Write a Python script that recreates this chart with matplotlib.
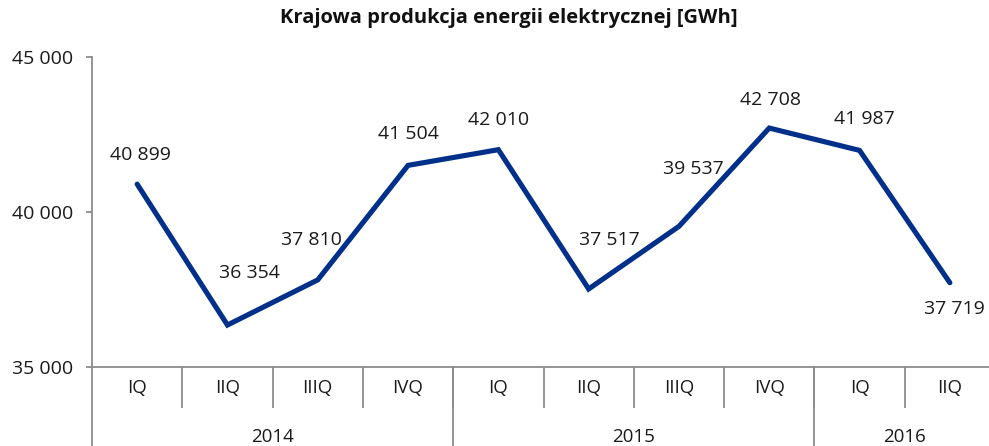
import matplotlib
matplotlib.use("Agg")
import matplotlib.pyplot as plt
import matplotlib.transforms as mtransforms

plt.rcParams['font.family'] = ['Open Sans', 'DejaVu Sans']

title = "Krajowa produkcja energii elektrycznej [GWh]"
quarters = ["IQ", "IIQ", "IIIQ", "IVQ", "IQ", "IIQ", "IIIQ", "IVQ", "IQ", "IIQ"]
years = ["2014", "2015", "2016"]
year_counts = [4, 4, 2]
values = [40899, 36354, 37810, 41504, 42010, 37517, 39537, 42708, 41987, 37719]
yticks = [35000, 40000, 45000]

# label offsets in pixels (style)
offsets = [(3, 29), (22, 52), (-6, 40), (0, 31), (0, 30), (21, 49), (14, 57), (1, 28), (5, 31), (5, -26)]

W, H = 989, 446
fig = plt.figure(figsize=(W / 100, H / 100), dpi=100)
L, R, T, B = 92, 995, 57, 367
ax = fig.add_axes([L / W, (H - B) / H, (R - L) / W, (B - T) / H])

FS = 14
TXT = "#1a1a1a"
n = len(values)
x = list(range(n))
ax.plot(x, values, color="#00308a", lw=3.7, solid_capstyle="round", solid_joinstyle="miter", zorder=3)

def fmt(v):
    return f"{v:,}".replace(",", " ")

for xi, v, (dx, dy) in zip(x, values, offsets):
    ax.annotate(fmt(v), (xi, v), xytext=(dx * 0.72, dy * 0.72), textcoords="offset points",
                ha="center", va="center", fontsize=FS, color=TXT)

ax.set_xlim(-0.5, n - 0.5)
ax.set_ylim(35000, 45000)
ax.set_yticks(yticks)
ax.set_yticklabels([fmt(t) for t in yticks], fontsize=FS, color=TXT)

gray = "#8c8c8c"
for s in ["top", "right"]:
    ax.spines[s].set_visible(False)
ax.spines["left"].set_color(gray)
ax.spines["bottom"].set_color(gray)
ax.spines["left"].set_linewidth(1.3)
ax.spines["bottom"].set_linewidth(1.3)
ax.tick_params(axis="y", length=4.5, width=1.3, color=gray, pad=9)

# quarter separators as ticks
ax.set_xticks([i - 0.5 for i in range(1, n)])
ax.set_xticklabels([])
ax.tick_params(axis="x", length=41 * 0.72, width=1.3, color=gray, direction="out")

trans = mtransforms.blended_transform_factory(ax.transData, ax.transAxes)
axh = B - T
for xi, q in zip(x, quarters):
    ax.text(xi, -21 / axh, q, transform=trans, ha="center", va="center", fontsize=FS - 0.5, color=TXT)

start = 0
bottom_frac = -(H - B + 5) / axh
for yr, c in zip(years, year_counts):
    mid = start + (c - 1) / 2
    ax.text(mid, -70 / axh, yr, transform=trans, ha="center", va="center", fontsize=FS - 0.5, color=TXT)
    edge = start - 0.5
    ax.plot([edge, edge], [0, bottom_frac], transform=trans, color=gray, lw=1.3, clip_on=False)
    start += c
ax.plot([start - 0.5, start - 0.5], [0, bottom_frac], transform=trans, color=gray, lw=1.3, clip_on=False)

fig.text(509 / W, 1 - 18 / H, title, ha="center", va="center", fontsize=14.5, fontweight="bold", color="#111111")

fig.savefig("out.png", dpi=100)
